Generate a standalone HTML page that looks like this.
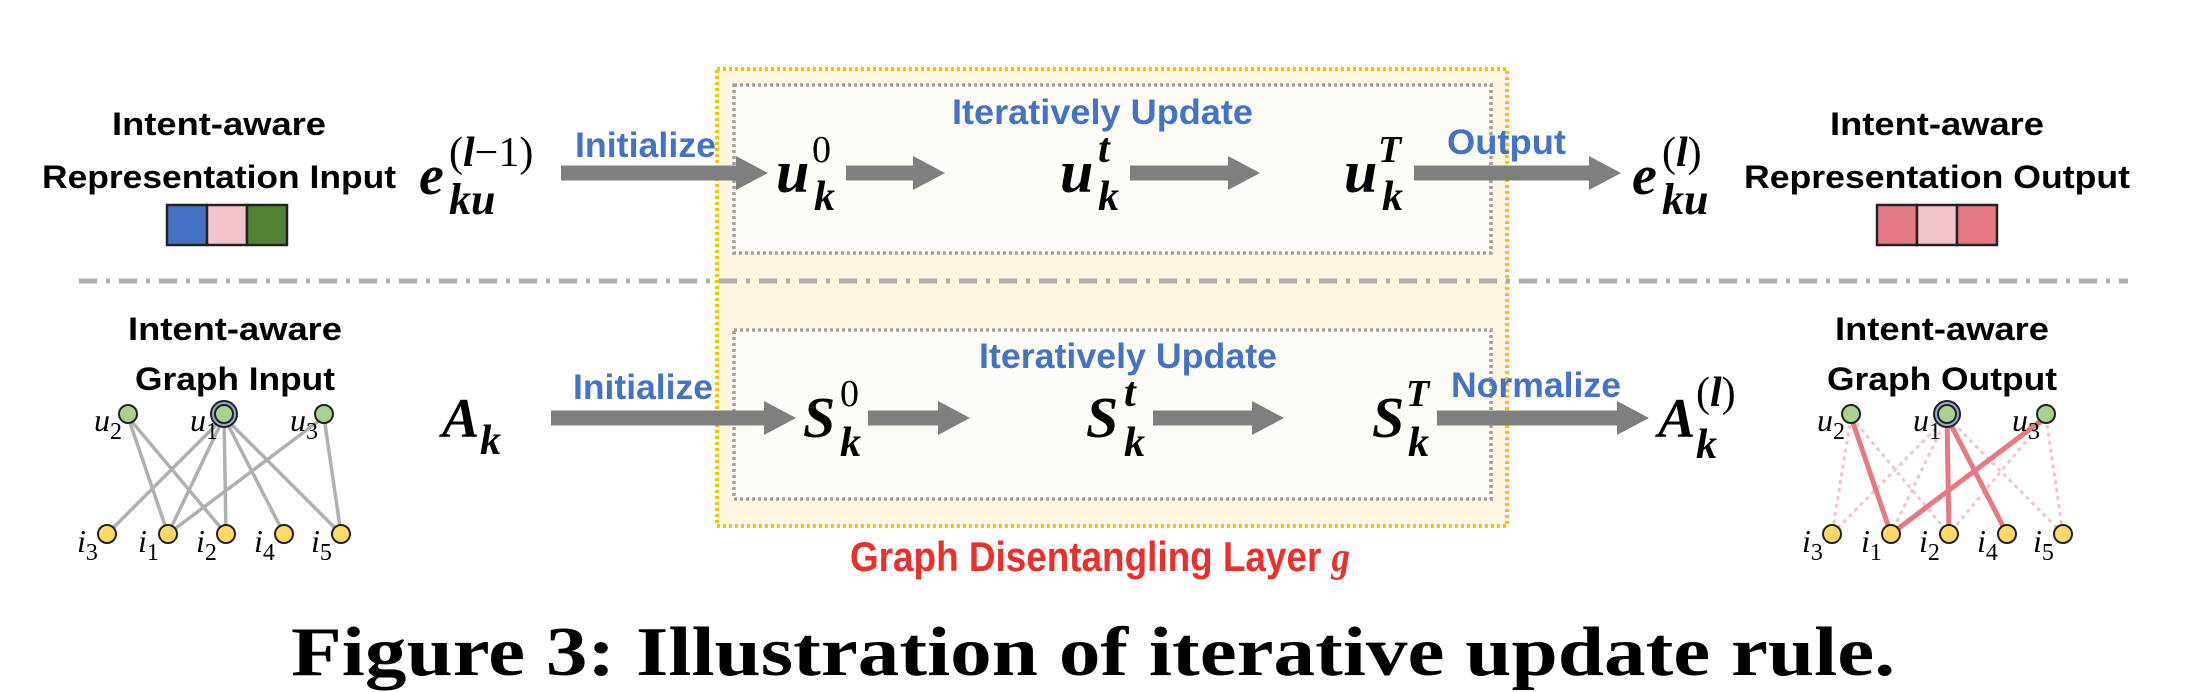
<!DOCTYPE html>
<html><head><meta charset="utf-8"><style>
html,body{margin:0;padding:0;background:#fff;}
svg{display:block;}
.lab{font-family:"Liberation Sans",sans-serif;font-weight:bold;}
.m{font-family:"Liberation Serif",serif;font-style:italic;font-weight:bold;}
.mn{font-family:"Liberation Serif",serif;font-style:normal;font-weight:normal;}
</style></head><body>
<svg id="fig" width="2188" height="692" viewBox="0 0 2188 692" xmlns="http://www.w3.org/2000/svg">
<!-- layer box -->
<rect x="717" y="69" width="790" height="457" fill="#fff6e1" stroke="#ffc000" stroke-width="4" stroke-dasharray="3,3"/>
<rect x="734" y="85" width="757" height="168" fill="#fefcf6" stroke="#a0a0a0" stroke-width="3.5" stroke-dasharray="3,3"/>
<rect x="734" y="330" width="757" height="169" fill="#fefcf6" stroke="#a0a0a0" stroke-width="3.5" stroke-dasharray="3,3"/>
<line x1="79" y1="281" x2="2128" y2="281" stroke="#b0b0b0" stroke-width="5" stroke-dasharray="18,9,4,9"/>

<g id="arrows"></g>

<!-- top row -->
<text class="lab" x="219" y="135" font-size="32" text-anchor="middle" textLength="214" lengthAdjust="spacingAndGlyphs">Intent-aware</text>
<text class="lab" x="219" y="188" font-size="32" text-anchor="middle" textLength="354" lengthAdjust="spacingAndGlyphs">Representation Input</text>
<g stroke="#222" stroke-width="2.5">
<rect x="167" y="205" width="40" height="40" fill="#4472c4"/><rect x="207" y="205" width="40" height="40" fill="#f4c4cc"/><rect x="247" y="205" width="40" height="40" fill="#548235"/>
</g>
<g><text class="m" x="419" y="194" font-size="56">e</text><text class="mn" x="449" y="166" font-size="42">(<tspan class="m">l</tspan>−1)</text><text class="m" x="449" y="214" font-size="44">ku</text></g>
<text class="lab" x="575" y="157" font-size="35" fill="#4472c4" textLength="141" lengthAdjust="spacingAndGlyphs">Initialize</text>
<g><text class="m" x="776" y="192" font-size="60">u</text><text class="mn" x="812" y="162" font-size="38">0</text><text class="m" x="814" y="210" font-size="42">k</text></g>
<text class="lab" x="952" y="124" font-size="35" fill="#4472c4" textLength="301" lengthAdjust="spacingAndGlyphs">Iteratively Update</text>
<g><text class="m" x="1060" y="192" font-size="60">u</text><text class="m" x="1098" y="162" font-size="42">t</text><text class="m" x="1098" y="210" font-size="42">k</text></g>
<g><text class="m" x="1344" y="192" font-size="60">u</text><text class="m" x="1378" y="162" font-size="38">T</text><text class="m" x="1382" y="210" font-size="42">k</text></g>
<text class="lab" x="1447" y="154" font-size="35" fill="#4472c4" textLength="119" lengthAdjust="spacingAndGlyphs">Output</text>
<g><text class="m" x="1632" y="194" font-size="56">e</text><text class="mn" x="1662" y="166" font-size="42">(<tspan class="m">l</tspan>)</text><text class="m" x="1662" y="214" font-size="44">ku</text></g>
<text class="lab" x="1937" y="135" font-size="32" text-anchor="middle" textLength="214" lengthAdjust="spacingAndGlyphs">Intent-aware</text>
<text class="lab" x="1937" y="188" font-size="32" text-anchor="middle" textLength="386" lengthAdjust="spacingAndGlyphs">Representation Output</text>
<g stroke="#222" stroke-width="2.5">
<rect x="1877" y="205" width="40" height="40" fill="#e57a85"/><rect x="1917" y="205" width="40" height="40" fill="#f4c4cc"/><rect x="1957" y="205" width="40" height="40" fill="#e57a85"/>
</g>

<!-- bottom row -->
<text class="lab" x="235" y="340" font-size="32" text-anchor="middle" textLength="214" lengthAdjust="spacingAndGlyphs">Intent-aware</text>
<text class="lab" x="235" y="390" font-size="32" text-anchor="middle" textLength="200" lengthAdjust="spacingAndGlyphs">Graph Input</text>
<g><text class="m" x="442" y="437" font-size="56">A</text><text class="m" x="480" y="454" font-size="42">k</text></g>
<text class="lab" x="573" y="399" font-size="35" fill="#4472c4" textLength="140" lengthAdjust="spacingAndGlyphs">Initialize</text>
<g><text class="m" x="803" y="437" font-size="58">S</text><text class="mn" x="840" y="406" font-size="38">0</text><text class="m" x="840" y="456" font-size="42">k</text></g>
<text class="lab" x="979" y="368" font-size="35" fill="#4472c4" textLength="298" lengthAdjust="spacingAndGlyphs">Iteratively Update</text>
<g><text class="m" x="1086" y="437" font-size="58">S</text><text class="m" x="1124" y="406" font-size="42">t</text><text class="m" x="1124" y="456" font-size="42">k</text></g>
<g><text class="m" x="1372" y="437" font-size="58">S</text><text class="m" x="1406" y="406" font-size="38">T</text><text class="m" x="1408" y="456" font-size="42">k</text></g>
<text class="lab" x="1451" y="397" font-size="35" fill="#4472c4" textLength="170" lengthAdjust="spacingAndGlyphs">Normalize</text>
<g><text class="m" x="1658" y="437" font-size="56">A</text><text class="mn" x="1696" y="406" font-size="42">(<tspan class="m">l</tspan>)</text><text class="m" x="1696" y="458" font-size="42">k</text></g>
<text class="lab" x="1942" y="340" font-size="32" text-anchor="middle" textLength="214" lengthAdjust="spacingAndGlyphs">Intent-aware</text>
<text class="lab" x="1942" y="390" font-size="32" text-anchor="middle" textLength="230" lengthAdjust="spacingAndGlyphs">Graph Output</text>

<text class="lab" x="850" y="571" font-size="42" fill="#e8312c" textLength="500" lengthAdjust="spacingAndGlyphs">Graph Disentangling Layer <tspan class="m" font-family="Liberation Serif">g</tspan></text>
<text x="291" y="675" font-size="70" font-family="Liberation Serif,serif" font-weight="bold" textLength="1604" lengthAdjust="spacingAndGlyphs">Figure 3: Illustration of iterative update rule.</text>

<g id="leftGraph"></g>
<g id="rightGraph"></g>
</svg>
<script>
const userX=[128,224,324];
const userNames=["2","1","3"];
const itemX=[107,168,226,284,341];
const itemNames=["3","1","2","4","5"];
const rightUserX=[1851,1947,2046];
const rightItemX=[1832,1891,1949,2007,2063];
// edges as [userIndex,itemIndex]
const leftEdges=[[0,1],[0,2],[1,0],[1,1],[1,2],[1,3],[1,4],[2,1],[2,4]];
const rightStrong=[[0,1],[2,1],[1,2],[1,3]];
const rightWeak=[[0,0],[0,2],[1,0],[1,1],[1,4],[2,2],[2,4]];
const NS="http://www.w3.org/2000/svg";
function mk(tag,attrs,parent){const e=document.createElementNS(NS,tag);for(const k in attrs)e.setAttribute(k,attrs[k]);parent.appendChild(e);return e;}
// arrows: [x1,x2,y]
const arrowSpecs=[[561,768,173],[846,945,173],[1130,1260,173],[1414,1621,173],[551,796,418],[868,970,418],[1153,1284,418],[1437,1649,418]];
const ag=document.getElementById('arrows');
arrowSpecs.forEach(([x1,x2,y])=>{
  const hl=32, sh=7.5, hh=17;
  const p=mk('polygon',{points:`${x1},${y-sh} ${x2-hl},${y-sh} ${x2-hl},${y-hh} ${x2},${y} ${x2-hl},${y+hh} ${x2-hl},${y+sh} ${x1},${y+sh}`,fill:'#7f7f7f'},ag);
  
  
});
function drawGraph(g,ux,ix,layers){
  const uy=417, iy=534;
  layers.forEach(L=>{L.edges.forEach(([u,i])=>{
    const l=mk('line',{x1:ux[u],y1:uy,x2:ix[i],y2:iy,stroke:L.color,'stroke-width':L.w},g);
    if(L.dash) l.setAttribute('stroke-dasharray',L.dash);
    
    
  });});
  ux.forEach((x,k)=>{
    if(k===1){const r=mk('circle',{cx:x,cy:uy-3,r:13,fill:'#8faadc',stroke:'#222','stroke-width':2},g);
      
      }
    const c=mk('circle',{cx:x,cy:uy-3,r:9,fill:'#a9d18e',stroke:'#222','stroke-width':2},g);
    
    
    const t=mk('text',{x:x-34,y:uy+14,'font-size':32,'font-family':'Liberation Serif,serif','font-style':'italic'},g);
    t.textContent='u';
    const s=mk('tspan',{'font-size':24,dy:8,'font-style':'normal'},t);s.textContent=userNames[k];
    
    
  });
  ix.forEach((x,k)=>{
    const c=mk('circle',{cx:x,cy:iy,r:9,fill:'#ffd966',stroke:'#222','stroke-width':2},g);
    
    
    const t=mk('text',{x:x-30,y:iy+18,'font-size':32,'font-family':'Liberation Serif,serif','font-style':'italic'},g);
    t.textContent='i';
    const s=mk('tspan',{'font-size':24,dy:8,'font-style':'normal'},t);s.textContent=itemNames[k];
    
    
  });
}
drawGraph(document.getElementById('leftGraph'),userX,itemX,[{edges:leftEdges,color:'#b0b0b0',w:3.5}]);
drawGraph(document.getElementById('rightGraph'),rightUserX,rightItemX,[{edges:rightWeak,color:'#f4c4cc',w:3,dash:'4,4'},{edges:rightStrong,color:'#e57a85',w:5}]);
</script>
</body></html>
